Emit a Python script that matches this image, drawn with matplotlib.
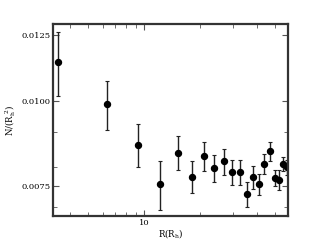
import matplotlib
matplotlib.use("Agg")
import matplotlib.pyplot as plt
from matplotlib.ticker import FixedLocator, NullFormatter

plt.rcParams["font.family"] = ["DejaVu Serif"]
plt.rcParams["mathtext.fontset"] = "dejavuserif"

# radius bins (R_h) and surface density N/(R_h^2)
r = [3.44, 6.34, 9.25, 12.2, 15.1, 18.0, 20.8, 23.8, 26.8, 29.5,
     32.5, 35.4, 38.1, 41.2, 44.0, 47.2, 50.0, 52.9, 55.8, 58.4]
n = [0.01139, 0.00989, 0.00862, 0.00756, 0.00840, 0.00775, 0.00830, 0.00798, 0.00816, 0.00787,
     0.00787, 0.00731, 0.00774, 0.00755, 0.00809, 0.00844, 0.00772, 0.00767, 0.00809, 0.00800]
err = [0.00121, 0.00081, 0.00062, 0.00062, 0.00048, 0.00042, 0.00041, 0.00037, 0.00036, 0.00034,
       0.00034, 0.00030, 0.00030, 0.00027, 0.00027, 0.00027, 0.00020, 0.00025, 0.00020, 0.00020]

yticks = [0.0075, 0.0100, 0.0125]
yticklabels = ["0.0075", "0.0100", "0.0125"]
yminor = [0.007, 0.008, 0.009]
xmajor = [10]
xminor = [4, 5, 6, 7, 8, 9, 20, 30, 40, 50]

fig = plt.figure(figsize=(3.2, 2.4), dpi=100)
ax = fig.add_axes([0.166, 0.1, 0.734, 0.8])

ax.errorbar(r, n, yerr=err, fmt="o", color="black", ecolor="#222222",
            markersize=4.3, elinewidth=1.0, capsize=1.5, capthick=0.8, clip_on=True)

ax.set_xscale("log")
ax.set_yscale("log")
ax.set_xlim(3.25, 59)
ax.set_ylim(0.00679, 0.01296)

ax.xaxis.set_major_locator(FixedLocator(xmajor))
ax.xaxis.set_minor_locator(FixedLocator(xminor))
ax.xaxis.set_minor_formatter(NullFormatter())
ax.set_xticklabels(["10"])
ax.yaxis.set_major_locator(FixedLocator(yticks))
ax.yaxis.set_minor_locator(FixedLocator(yminor))
ax.yaxis.set_minor_formatter(NullFormatter())
ax.set_yticklabels(yticklabels)

ax.tick_params(which="both", direction="in", top=True, right=True,
               color="#555555", labelsize=6, pad=2)
ax.tick_params(which="major", length=4, width=0.8)
ax.tick_params(which="minor", length=3, width=0.6)

for s in ax.spines.values():
    s.set_linewidth(1.6)
    s.set_color("#333333")

ax.set_xlabel(r"R(R$_{\rm h}$)", fontsize=6.2, labelpad=0.5)
ax.set_ylabel(r"N/(R$_{\rm h}^{\ 2}$)", fontsize=6.2, labelpad=2)

fig.savefig("out.png", dpi=100)
